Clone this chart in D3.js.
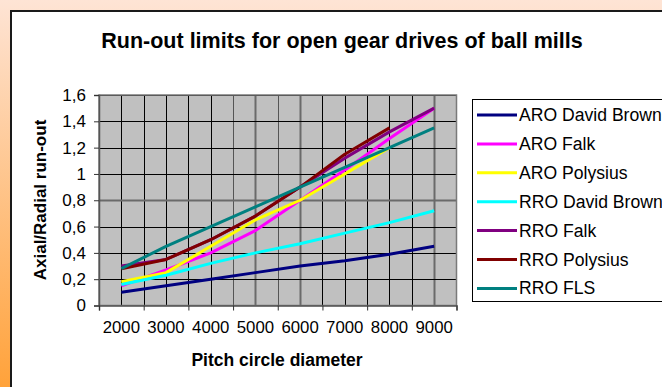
<!DOCTYPE html>
<html>
<head>
<meta charset="utf-8">
<script src="https://cdn.jsdelivr.net/npm/d3@7"></script>
<style>
  html, body { margin: 0; padding: 0; }
  body { width: 662px; height: 387px; overflow: hidden; }
  svg text { font-family: "Liberation Sans", Arial, sans-serif; fill: #000; }
</style>
</head>
<body>
<svg id="chart" width="662" height="387"></svg>
<script>
// ---- data ----
const categories = [2000, 3000, 4000, 5000, 6000, 7000, 8000, 9000];
const seriesNames = ["ARO David Brown", "ARO Falk", "ARO Polysius", "RRO David Brown", "RRO Falk", "RRO Polysius", "RRO FLS"];
const seriesColors = ["#000080", "#FF00FF", "#FFFF00", "#00FFFF", "#800080", "#800000", "#008080"];
const aroDavidBrown = [0.10, 0.15, 0.20, 0.25, 0.30, 0.34, 0.39, 0.45];
const aroFalk       = [0.15, 0.27, 0.40, 0.57, 0.80, 1.03, 1.27, 1.50];
const aroPolysius   = [0.18, 0.25, 0.45, 0.65, 0.80, 1.00, 1.20, null];
const rroDavidBrown = [0.16, 0.23, 0.32, 0.40, 0.47, 0.55, 0.63, 0.72];
const rroFalk       = [0.30, 0.35, 0.50, 0.68, 0.90, 1.12, 1.32, 1.50];
const rroPolysius   = [0.28, 0.35, 0.50, 0.68, 0.90, 1.15, 1.35, null];
const rroFLS        = [0.28, 0.45, 0.60, 0.75, 0.90, 1.05, 1.20, 1.35];
const yTickValues = [0, 0.2, 0.4, 0.6, 0.8, 1.0, 1.2, 1.4, 1.6];
const yTickLabels = ["0", "0,2", "0,4", "0,6", "0,8", "1", "1,2", "1,4", "1,6"];
const titleText = "Run-out limits for open gear drives of ball mills";
const xTitle = "Pitch circle diameter";
const yTitle = "Axial/Radial run-out";

const allSeries = [aroDavidBrown, aroFalk, aroPolysius, rroDavidBrown, rroFalk, rroPolysius, rroFLS];

const svg = d3.select("#chart");

// background gradient
const defs = svg.append("defs");
const grad = defs.append("linearGradient").attr("id", "bg").attr("x1", 0).attr("y1", 0).attr("x2", 0).attr("y2", 1);
grad.append("stop").attr("offset", "0%").attr("stop-color", "#FEE4D5");
grad.append("stop").attr("offset", "100%").attr("stop-color", "#FFA23A");
svg.append("rect").attr("width", 662).attr("height", 387).attr("fill", "url(#bg)");
svg.append("rect").attr("x", 11).attr("y", 11).attr("width", 660).attr("height", 390)
  .attr("fill", "#fff").attr("stroke", "#1a1a1a").attr("stroke-width", 2);

// layout
const plot = { left: 99, right: 456.5, top: 95, bottom: 305.5 };

const x = d3.scaleBand().domain(categories).range([plot.left, plot.right]).paddingInner(0).paddingOuter(0);
const xEdge = d3.scaleLinear().domain([0, categories.length]).range([plot.left, plot.right]);
const y = d3.scaleLinear().domain([0, 1.6]).range([plot.bottom, plot.top]);

// plot area
svg.append("rect").attr("x", plot.left).attr("y", plot.top)
  .attr("width", plot.right - plot.left).attr("height", plot.bottom - plot.top)
  .attr("fill", "#C0C0C0");

// gridlines
const gridG = svg.append("g");
const grayV = [3.5, 4.5, 7.5];
const grayThinV = [3, 4];
d3.range(0.5, categories.length, 0.5).forEach(v => {
  const isGray = grayV.includes(v), isThin = grayThinV.includes(v);
  gridG.append("line")
    .attr("x1", Math.round(xEdge(v)) + 0.5).attr("x2", Math.round(xEdge(v)) + 0.5)
    .attr("y1", plot.top).attr("y2", plot.bottom)
    .attr("stroke", isGray ? "#6a6a6a" : (isThin ? "#555" : "#000"))
    .attr("stroke-width", isGray ? 2 : 1);
});
yTickValues.slice(1, -1).forEach(v => {
  const isGray = v === 0.8;
  gridG.append("line")
    .attr("x1", plot.left).attr("x2", plot.right)
    .attr("y1", Math.round(y(v)) + 0.5).attr("y2", Math.round(y(v)) + 0.5)
    .attr("stroke", isGray ? "#6a6a6a" : "#000")
    .attr("stroke-width", isGray ? 2 : 1);
});
gridG.append("line").attr("x1", plot.left).attr("x2", plot.right)
  .attr("y1", plot.top + 0.5).attr("y2", plot.top + 0.5).attr("stroke", "#000");
svg.append("rect").attr("x", plot.left).attr("y", plot.top)
  .attr("width", plot.right - plot.left).attr("height", plot.bottom - plot.top)
  .attr("fill", "none").attr("stroke", "#7a7a7a").attr("stroke-width", 1.5);

// series lines
const line = d3.line()
  .defined(d => d.v !== null)
  .x(d => x(d.c) + x.bandwidth() / 2)
  .y(d => y(d.v));
allSeries.forEach((s, i) => {
  const pts = categories.map((c, j) => ({ c, v: s[j] }));
  svg.append("path").datum(pts).attr("d", line)
    .attr("fill", "none").attr("stroke", seriesColors[i]).attr("stroke-width", 3)
    .attr("stroke-linejoin", "round");
});

// y axis
const yAxis = d3.axisLeft(y).tickValues(yTickValues)
  .tickFormat((d, i) => yTickLabels[i]).tickSize(5).tickPadding(8);
const yg = svg.append("g").attr("transform", `translate(${plot.left},0)`).call(yAxis);
yg.select(".domain").attr("stroke", "#555").attr("stroke-width", 1.5);
yg.selectAll(".tick line").attr("stroke", "#333");
yg.selectAll("text").style("font-size", "17px").attr("fill", "#000");

// x axis: tick marks at band edges
const xTickAxis = d3.axisBottom(xEdge).tickValues(d3.range(0, categories.length + 1))
  .tickFormat("").tickSize(5);
const xg = svg.append("g").attr("transform", `translate(0,${plot.bottom})`).call(xTickAxis);
xg.select(".domain").attr("stroke", "#555").attr("stroke-width", 1.5);
xg.selectAll(".tick line").attr("stroke", "#333");
const xLabAxis = d3.axisBottom(x).tickSize(0).tickPadding(16);
const xl = svg.append("g").attr("transform", `translate(0,${plot.bottom})`).call(xLabAxis);
xl.select(".domain").remove();
xl.selectAll("text").style("font-size", "16.8px").attr("fill", "#000");

// titles
svg.append("text").attr("x", 342).attr("y", 48).attr("text-anchor", "middle")
  .style("font-size", "21.5px").style("font-weight", "bold").text(titleText);
svg.append("text").attr("x", 277).attr("y", 366).attr("text-anchor", "middle")
  .style("font-size", "17.5px").style("font-weight", "bold").text(xTitle);
svg.append("text").attr("transform", "translate(46,200) rotate(-90)").attr("text-anchor", "middle")
  .style("font-size", "17px").style("font-weight", "bold").text(yTitle);

// legend
const leg = svg.append("g");
leg.append("rect").attr("x", 472.5).attr("y", 99.5).attr("width", 200).attr("height", 202)
  .attr("fill", "#fff").attr("stroke", "#000").attr("stroke-width", 1);
seriesNames.forEach((name, i) => {
  const cy = 115 + i * 28.9;
  leg.append("line").attr("x1", 477).attr("x2", 517).attr("y1", cy).attr("y2", cy)
    .attr("stroke", seriesColors[i]).attr("stroke-width", 3);
  leg.append("text").attr("x", 519).attr("y", cy + 6).style("font-size", "17.6px").text(name);
});
</script>
</body>
</html>
